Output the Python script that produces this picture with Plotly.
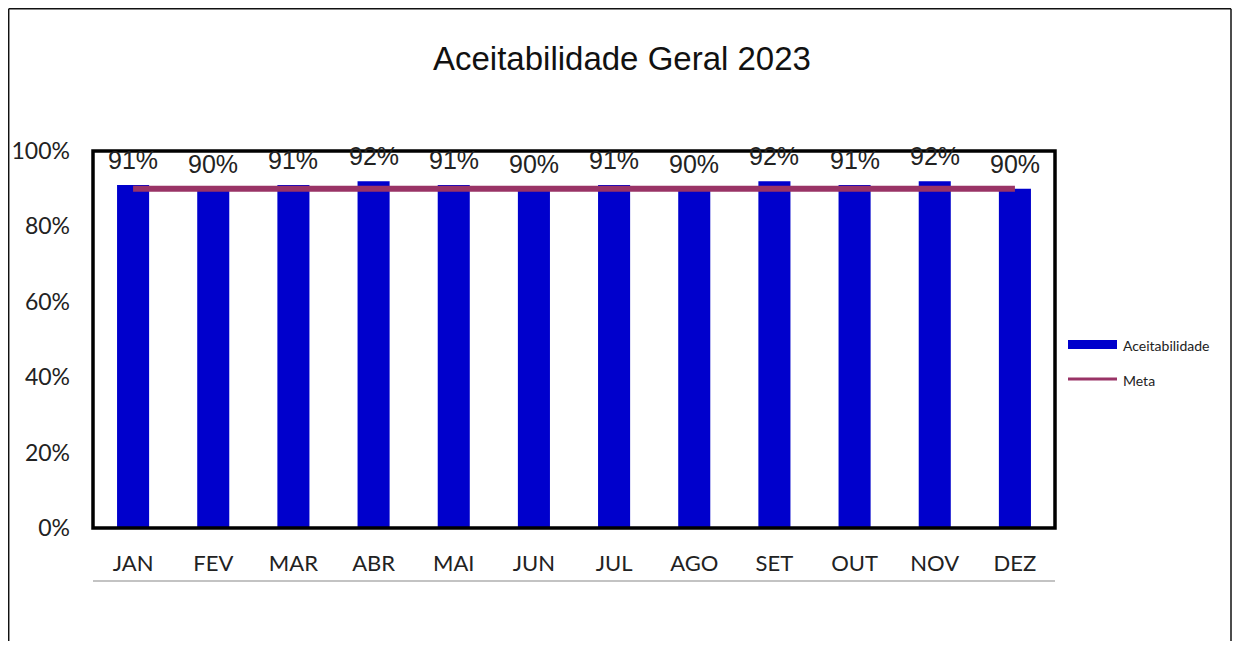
import plotly.graph_objects as go

months = ["JAN", "FEV", "MAR", "ABR", "MAI", "JUN", "JUL", "AGO", "SET", "OUT", "NOV", "DEZ"]
aceitabilidade = [0.91, 0.90, 0.91, 0.92, 0.91, 0.90, 0.91, 0.90, 0.92, 0.91, 0.92, 0.90]
meta = [0.90] * 12
labels = ["91%", "90%", "91%", "92%", "91%", "90%", "91%", "90%", "92%", "91%", "92%", "90%"]
y_ticks = [0, 0.2, 0.4, 0.6, 0.8, 1.0]
y_tick_labels = ["0%", "20%", "40%", "60%", "80%", "100%"]

BLUE = "#0000CC"
META = "#993366"

# page has an 8px body margin on every side; work in page pixels and convert
OFF = 8
W, H = 1240 - 2 * OFF, 649 - 2 * OFF
L, R, T, B = 93 - OFF, 1055 - OFF, 151 - OFF, 528 - OFF

def px(x):
    return (x - OFF - L) / (R - L)

def py(y):
    return (B - (y - OFF)) / (B - T)

fig = go.Figure()
fig.add_trace(go.Bar(x=months, y=aceitabilidade, name="Aceitabilidade",
                     marker=dict(color=BLUE, line=dict(width=0)), showlegend=False))
fig.add_trace(go.Scatter(x=months, y=meta, name="Meta", mode="lines",
                         line=dict(color=META, width=6), showlegend=False))

annotations = []
for m, v, t in zip(months, aceitabilidade, labels):
    annotations.append(dict(x=m, y=v, xref="x", yref="y", text=t, showarrow=False,
                            yanchor="bottom", yshift=9,
                            font=dict(family="Arial", size=25, color="#222222")))

# title
annotations.append(dict(x=px(622), y=py(58), xref="paper", yref="paper",
                        text="Aceitabilidade Geral 2023", showarrow=False,
                        xanchor="center", yanchor="middle",
                        font=dict(family="Arial", size=33, color="#111111")))

# custom legend
leg_font = dict(family="Lato", size=14, color="#222222")
annotations.append(dict(x=px(1121), y=py(345), xref="paper", yref="paper",
                        text="Aceitabilidade", showarrow=False, xanchor="left",
                        yanchor="middle", font=leg_font))
annotations.append(dict(x=px(1121), y=py(380), xref="paper", yref="paper",
                        text="Meta", showarrow=False, xanchor="left",
                        yanchor="middle", font=leg_font))

shapes = [
    # outer frame (left, right and top edges)
    dict(type="line", xref="paper", yref="paper", x0=px(8.7), x1=px(8.7),
         y0=py(680), y1=py(8.7), line=dict(color="#111111", width=1.5), layer="below"),
    dict(type="line", xref="paper", yref="paper", x0=px(1231), x1=px(1231),
         y0=py(680), y1=py(8.7), line=dict(color="#111111", width=1.5), layer="below"),
    dict(type="line", xref="paper", yref="paper", x0=px(8.7), x1=px(1231),
         y0=py(8.7), y1=py(8.7), line=dict(color="#111111", width=1.5), layer="below"),
    # plot area thick border
    dict(type="rect", xref="paper", yref="paper", x0=0, x1=1, y0=0, y1=1,
         line=dict(color="#000000", width=3.5), layer="above"),
    # line under x labels
    dict(type="line", xref="paper", yref="paper", x0=0, x1=1, y0=py(581), y1=py(581),
         line=dict(color="#888888", width=1.2)),
    # legend symbols
    dict(type="rect", xref="paper", yref="paper", x0=px(1068), x1=px(1117),
         y0=py(349), y1=py(340), line=dict(width=0), fillcolor=BLUE),
    dict(type="line", xref="paper", yref="paper", x0=px(1068), x1=px(1117),
         y0=py(379), y1=py(379), line=dict(color=META, width=3)),
]

fig.update_layout(
    width=W, height=H,
    margin=dict(l=L, r=W - R, t=T, b=H - B, autoexpand=False),
    paper_bgcolor="white", plot_bgcolor="white",
    bargap=0.6,
    showlegend=False,
    annotations=annotations,
    shapes=shapes,
    xaxis=dict(showgrid=False, zeroline=False, showline=False, ticks="",
               tickfont=dict(family="Lato", size=22, color="#222222"),
               ticklabelstandoff=20),
    yaxis=dict(range=[0, 1.0], tickvals=y_ticks, ticktext=y_tick_labels,
               showgrid=False, zeroline=False, showline=False, ticks="",
               tickfont=dict(family="Lato", size=23, color="#222222"),
               ticklabelstandoff=22),
)

fig.write_html("out.html")
